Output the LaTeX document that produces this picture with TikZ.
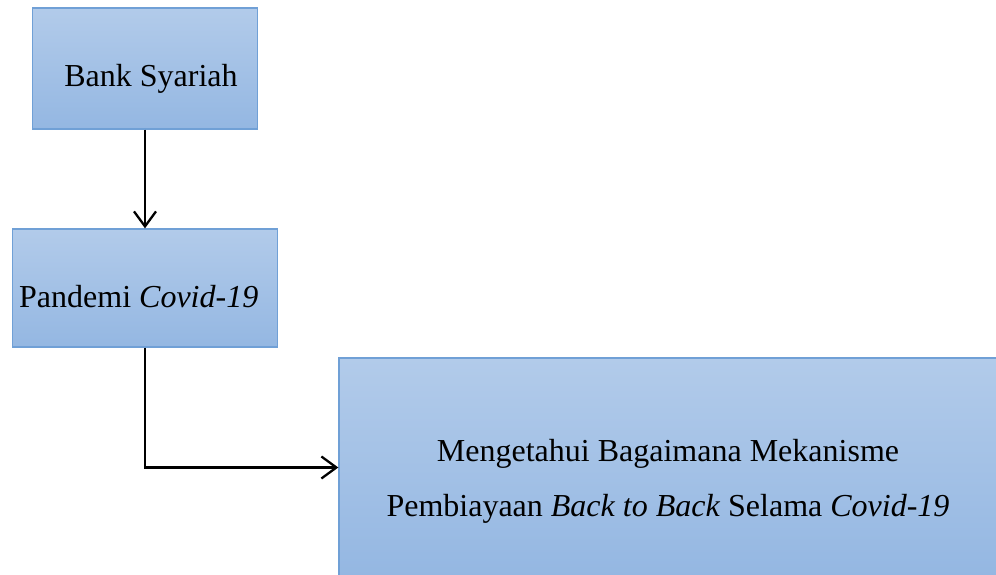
\documentclass[tikz,border=0pt]{standalone}
\usepackage{fontspec}
\setmainfont{Liberation Serif}
\usetikzlibrary{arrows.meta}
\definecolor{boxtop}{RGB}{178,203,234}
\definecolor{boxbot}{RGB}{148,183,226}
\definecolor{boxline}{RGB}{112,160,214}
\tikzset{
  box/.style={draw=boxline, line width=1.3pt, top color=boxtop, bottom color=boxbot, inner sep=0pt, minimum width=#1},
  lbl/.style={anchor=base, inner sep=0pt, font=\fontsize{32}{38}\selectfont},
  conn/.style={line width=2.3pt, -{Straight Barb[length=15pt,width=22pt,line width=2.3pt]}},
}
\begin{document}
\begin{tikzpicture}[x=1pt,y=-1pt]
\useasboundingbox (0,0) rectangle (996,575);
\clip (0,0) rectangle (996,575);
\node[box=225pt, minimum height=121pt] (bank) at (145,68.5) {};
\node[box=265pt, minimum height=118pt] (pan) at (145,288) {};
\node[box=670pt, minimum height=219pt] (goal) at (674,467.5) {};
\node[lbl] (tbank) at (151,87) {Bank Syariah};
\node[lbl, anchor=base west] (tpan) at (19,307) {Pandemi \textit{Covid-19}};
\node[lbl] (tg1) at (668,461) {Mengetahui Bagaimana Mekanisme};
\node[lbl] (tg2) at (668,516) {Pembiayaan \textit{Back to Back} Selama \textit{Covid-19}};
\draw[conn] (bank.south) -- (pan.north);
\draw[conn] (pan.south) |- (goal.west);
\end{tikzpicture}
\end{document}
